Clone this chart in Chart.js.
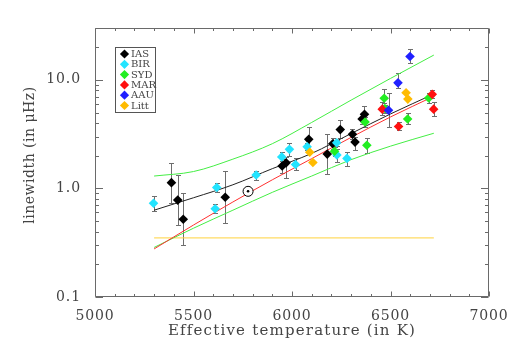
<!DOCTYPE html>
<html>
<head>
<meta charset="utf-8">
<script src="https://cdn.jsdelivr.net/npm/chart.js@4.4.0/dist/chart.umd.min.js"></script>
<style>
  html, body { margin: 0; padding: 0; background: #fff; }
</style>
</head>
<body>
<canvas id="chart" width="518" height="354"></canvas>
<script>
// --- data ---
const seriesNames  = ['IAS', 'BIR', 'SYD', 'MAR', 'AAU', 'Litt'];
const seriesColors = ['#000000', '#22e4ff', '#22ee22', '#ff1010', '#2020ff', '#ffbb00'];

const iasT  = [5388, 5420, 5448, 5661, 5950, 5970, 6085, 6179, 6207, 6245, 6307, 6320, 6356, 6368];
const iasW  = [1.13, 0.78, 0.52, 0.83, 1.61, 1.72, 2.83, 2.07, 2.58, 3.48, 3.15, 2.67, 4.36, 4.81];
const iasLo = [0.73, 0.46, 0.30, 0.48, 1.40, 1.26, 2.25, 1.37, 2.30, 2.90, 2.85, 2.25, 3.90, 4.10];
const iasHi = [1.73, 1.32, 0.90, 1.45, 1.85, 1.95, 3.69, 3.16, 2.90, 4.23, 3.50, 2.95, 4.80, 5.76];

const birT  = [5297, 5610, 5618, 5818, 5948, 5987, 6018, 6077, 6227, 6228, 6279];
const birW  = [0.73, 0.65, 1.02, 1.33, 1.95, 2.29, 1.66, 2.42, 2.63, 2.03, 1.89];
const birLo = [0.62, 0.59, 0.92, 1.20, 1.78, 1.98, 1.47, 2.25, 2.45, 1.75, 1.60];
const birHi = [0.85, 0.72, 1.12, 1.45, 2.15, 2.63, 1.90, 2.60, 2.82, 2.30, 2.17];

const sydT  = [6216, 6371, 6380, 6468, 6471, 6587, 6694];
const sydW  = [2.20, 4.09, 2.50, 6.76, 5.45, 4.36, 6.81];
const sydLo = [2.00, 3.70, 2.13, 6.10, 5.00, 3.90, 6.14];
const sydHi = [2.40, 4.50, 2.90, 8.16, 5.90, 5.00, 7.50];

const marT  = [6458, 6541, 6712, 6719];
const marW  = [5.37, 3.72, 7.35, 5.37];
const marLo = [4.70, 3.44, 6.78, 4.60];
const marHi = [6.30, 4.10, 8.04, 6.19];

const aauT  = [6490, 6538, 6599];
const aauW  = [5.24, 9.38, 16.4];
const aauLo = [3.67, 8.33, 14.2];
const aauHi = [7.50, 11.6, 19.1];

const littT = [6090, 6106, 6579, 6588];
const littW = [2.15, 1.73, 7.59, 6.64];

const sunT = [5777];
const sunW = [0.94];

// fitted curves
const fitT      = [5300, 5500, 5700, 5900, 6100, 6300, 6500, 6720];
const fitBlack  = [0.63, 0.82, 1.08, 1.52, 2.10, 3.20, 4.85, 7.40];
const fitRed    = [0.277, 0.46, 0.75, 1.20, 1.88, 2.95, 4.55, 7.05];
const fitUpper  = [1.30, 1.43, 1.86, 2.58, 4.05, 6.50, 10.3, 16.9];
const fitLower  = [0.286, 0.43, 0.63, 0.92, 1.30, 1.84, 2.45, 3.22];
const flatT     = [5300, 6720];
const flatW     = [0.35, 0.35];

// axes
const xTickValues = [5000, 5500, 6000, 6500, 7000];
const yTickValues = [0.1, 1, 10];
const yTickLabels = ['0.1', '1.0', '10.0'];
const xTitle = 'Effective temperature (in K)';
const yTitle = 'linewidth (in μHz)';

const serif = "'DejaVu Serif', serif";
const axisColor = '#6a6a6a';
const textColor = '#444';

function pts(xs, ys) {
    return xs.map((v, i) => ({ x: v, y: ys[i] }));
}

function pointSet(idx, xs, ys, lo, hi) {
    return {
        label: seriesNames[idx],
        data: pts(xs, ys),
        pointStyle: 'rectRot',
        pointRadius: 4.8,
        pointBackgroundColor: seriesColors[idx],
        pointBorderColor: seriesColors[idx],
        pointBorderWidth: 0,
        showLine: false,
        errLo: lo,
        errHi: hi,
        order: 1
    };
}

function lineSet(xs, ys, color) {
    return {
        data: pts(xs, ys),
        showLine: true,
        borderColor: color,
        borderWidth: 1,
        pointRadius: 0,
        cubicInterpolationMode: 'monotone',
        order: 5
    };
}

// wider glyph spacing for the tick labels (old plotting font is wide)
const spacing = {
    id: 'spacing',
    beforeDraw(chart) {
        chart.ctx.letterSpacing = '0.9px';
    }
};

// vertical error bars with small caps
const errorBars = {
    id: 'errorBars',
    beforeDatasetsDraw(chart) {
        const { ctx, scales: { x, y } } = chart;
        ctx.save();
        ctx.strokeStyle = '#6e6e6e';
        ctx.lineWidth = 1;
        chart.data.datasets.forEach(ds => {
            if (!ds.errLo) return;
            ds.data.forEach((p, i) => {
                const px = Math.round(x.getPixelForValue(p.x)) + 0.5;
                const yl = Math.round(y.getPixelForValue(ds.errLo[i])) + 0.5;
                const yh = Math.round(y.getPixelForValue(ds.errHi[i])) + 0.5;
                ctx.beginPath();
                ctx.moveTo(px, yl); ctx.lineTo(px, yh);
                ctx.moveTo(px - 2.5, yl); ctx.lineTo(px + 2.5, yl);
                ctx.moveTo(px - 2.5, yh); ctx.lineTo(px + 2.5, yh);
                ctx.stroke();
            });
        });
        ctx.restore();
    }
};

// box round the plot with inward ticks on every side, plus axis titles
const frameTicks = {
    id: 'frameTicks',
    afterDatasetsDraw(chart) {
        const { ctx, chartArea: a, scales: { x, y } } = chart;
        const L = a.left + 0.5, R = a.right - 0.5, T = a.top + 0.5, B = a.bottom - 0.5;
        ctx.save();
        ctx.strokeStyle = axisColor;
        ctx.lineWidth = 1;
        ctx.beginPath();
        ctx.rect(L, T, R - L, B - T);
        for (let t = x.min; t <= x.max; t += 100) {
            const px = Math.round(x.getPixelForValue(t)) + 0.5;
            const major = t % 500 === 0;
            ctx.moveTo(px, B); ctx.lineTo(px, B - (major ? 5 : 2.5));
            ctx.moveTo(px, T); ctx.lineTo(px, T + (major ? 5 : 2.5));
        }
        yTickValues.forEach(d => {
            for (let m = 1; m <= 9; m++) {
                const v = d * m;
                if (v > y.max) break;
                const py = Math.round(y.getPixelForValue(v)) + 0.5;
                const len = m === 1 ? 7.5 : 3.5;
                ctx.moveTo(L, py); ctx.lineTo(L + len, py);
                ctx.moveTo(R, py); ctx.lineTo(R - len, py);
            }
        });
        ctx.stroke();

        // axis titles
        ctx.fillStyle = textColor;
        ctx.textAlign = 'center';
        ctx.textBaseline = 'middle';
        ctx.font = '15px ' + serif;
        ctx.letterSpacing = '1.2px';
        ctx.fillText(xTitle, (a.left + a.right) / 2, 331);
        ctx.font = '14px ' + serif;
        ctx.letterSpacing = '0.5px';
        ctx.translate(30, 155);
        ctx.rotate(-Math.PI / 2);
        ctx.fillText(yTitle, 0, 0);
        ctx.restore();
    }
};

// boxed legend in the upper left corner
const boxLegend = {
    id: 'boxLegend',
    afterDraw(chart) {
        const { ctx } = chart;
        const bx = 115.5, by = 47.5, bw = 40, bh = 65, rowH = 10.3;
        ctx.save();
        ctx.letterSpacing = '0px';
        ctx.strokeStyle = '#555';
        ctx.lineWidth = 1;
        ctx.strokeRect(bx, by, bw, bh);
        ctx.font = '10px ' + serif;
        ctx.textBaseline = 'middle';
        seriesNames.forEach((name, i) => {
            const cy = 54 + i * rowH;
            const cx = 124.5, r = 4.6;
            ctx.fillStyle = seriesColors[i];
            ctx.beginPath();
            ctx.moveTo(cx, cy - r); ctx.lineTo(cx + r, cy);
            ctx.lineTo(cx, cy + r); ctx.lineTo(cx - r, cy);
            ctx.closePath();
            ctx.fill();
            ctx.fillStyle = textColor;
            ctx.fillText(name, 131, cy + 0.5);
        });
        ctx.restore();
    }
};

const datasets = [
    pointSet(4, aauT, aauW, aauLo, aauHi),
    pointSet(3, marT, marW, marLo, marHi),
    pointSet(2, sydT, sydW, sydLo, sydHi),
    pointSet(5, littT, littW, null, null),
    pointSet(1, birT, birW, birLo, birHi),
    pointSet(0, iasT, iasW, iasLo, iasHi),
    {
        data: pts(sunT, sunW),
        pointStyle: 'circle', pointRadius: 1.3,
        pointBackgroundColor: '#000', pointBorderWidth: 0, showLine: false, order: 0
    },
    {
        data: pts(sunT, sunW),
        pointStyle: 'circle', pointRadius: 5,
        pointBackgroundColor: '#fff', pointBorderColor: '#000', pointBorderWidth: 1,
        showLine: false, order: 0.5
    },
    lineSet(fitT, fitBlack, '#222222'),
    lineSet(fitT, fitRed, '#ff3030'),
    lineSet(fitT, fitUpper, '#44ee44'),
    lineSet(fitT, fitLower, '#44ee44'),
    lineSet(flatT, flatW, '#ffd23c')
];

new Chart(document.getElementById('chart'), {
    type: 'scatter',
    data: { datasets: datasets },
    options: {
        responsive: false,
        animation: false,
        layout: { padding: { left: 0, right: 29, top: 28, bottom: 0 } },
        plugins: { legend: { display: false }, tooltip: { enabled: false } },
        scales: {
            x: {
                type: 'linear',
                min: 5000,
                max: 7000,
                afterBuildTicks: s => { s.ticks = xTickValues.map(v => ({ value: v })); },
                afterFit: s => { s.height = 57; },
                grid: { display: false },
                border: { display: false },
                ticks: {
                    callback: v => String(v),
                    font: { family: serif, size: 14 },
                    color: textColor,
                    padding: 3,
                    maxRotation: 0,
                    autoSkip: false
                }
            },
            y: {
                type: 'logarithmic',
                min: 0.1,
                max: 30,
                afterBuildTicks: s => { s.ticks = yTickValues.map(v => ({ value: v })); },
                afterFit: s => { s.width = 95; },
                grid: { display: false },
                border: { display: false },
                ticks: {
                    callback: (v) => yTickLabels[yTickValues.indexOf(v)] || '',
                    font: { family: serif, size: 14 },
                    color: textColor,
                    padding: 6,
                    autoSkip: false
                }
            }
        }
    },
    plugins: [spacing, errorBars, frameTicks, boxLegend]
});
</script>
</body>
</html>
